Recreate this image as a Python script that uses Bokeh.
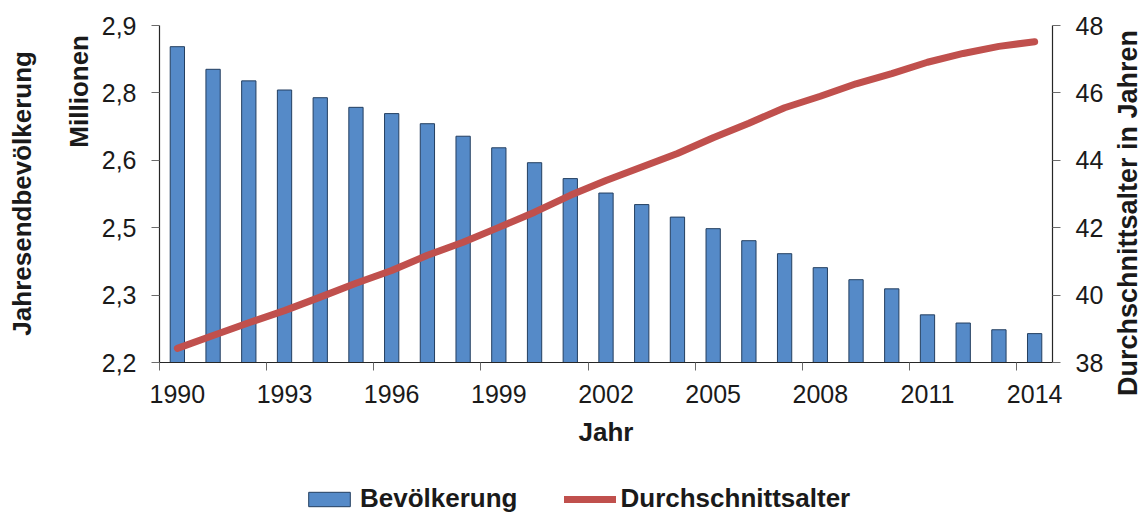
from bokeh.plotting import figure
from bokeh.layouts import column, row
from bokeh.models import (ColumnDataSource, Range1d, LinearAxis, FixedTicker,
                          CustomJSTickFormatter, Legend, LegendItem, Div)
from bokeh.embed import file_html
from bokeh.resources import INLINE

# ---------------- data ----------------
YEARS = [1990, 1991, 1992, 1993, 1994, 1995, 1996, 1997, 1998, 1999, 2000, 2001, 2002,
         2003, 2004, 2005, 2006, 2007, 2008, 2009, 2010, 2011, 2012, 2013, 2014]
POPULATION_MIO = [2.856, 2.809, 2.785, 2.766, 2.750, 2.730, 2.717, 2.696, 2.670, 2.646,
                  2.615, 2.582, 2.552, 2.528, 2.502, 2.478, 2.453, 2.426, 2.397, 2.372,
                  2.353, 2.299, 2.282, 2.268, 2.260]
AVERAGE_AGE = [38.42, 38.80, 39.18, 39.54, 39.94, 40.35, 40.73, 41.18, 41.57, 42.01,
               42.46, 42.96, 43.40, 43.80, 44.20, 44.67, 45.10, 45.56, 45.90, 46.27,
               46.57, 46.91, 47.17, 47.38, 47.52]
X_TICK_YEARS = [1990, 1993, 1996, 1999, 2002, 2005, 2008, 2011, 2014]
LEFT_TICKS = [2.2, 2.34, 2.48, 2.62, 2.76, 2.9]
RIGHT_TICKS = [38, 40, 42, 44, 46, 48]

SERIES_NAMES = ["Bevölkerung", "Durchschnittsalter"]
X_TITLE = "Jahr"
LEFT_TITLE_1 = "Jahresendbevölkerung"
LEFT_TITLE_2 = "Millionen"
RIGHT_TITLE = "Durchschnittsalter in Jahren"

# ---------------- style ----------------
FONT = "Liberation Sans"
BAR_FILL = "#558AC8"
BAR_LINE = "#243F60"
LINE_COLOR = "#C0504D"
AXIS_COLOR = "#262626"
TICK_COLOR = "#6b6b6b"
TEXT_COLOR = "#1a1a1a"

bar_style = dict(fill_color=BAR_FILL, line_color=BAR_LINE, line_width=1)
line_style = dict(line_color=LINE_COLOR, line_width=7, line_cap="round", line_join="round")

src = ColumnDataSource(dict(year=YEARS, pop=POPULATION_MIO, age=AVERAGE_AGE))

# ---------------- main chart ----------------
p = figure(width=1023, height=470, output_backend="svg", toolbar_location=None,
           title=None,
           x_range=Range1d(YEARS[0] - 0.5, YEARS[-1] + 0.5),
           y_range=Range1d(LEFT_TICKS[0], LEFT_TICKS[-1]),
           min_border_left=64, min_border_right=66, min_border_top=25,
           min_border_bottom=108)
p.extra_y_ranges = {"age": Range1d(RIGHT_TICKS[0], RIGHT_TICKS[-1])}
p.outline_line_color = None
p.xgrid.visible = False
p.ygrid.visible = False
p.background_fill_color = "white"
p.border_fill_color = "white"

r_bar = p.vbar(x="year", top="pop", bottom=LEFT_TICKS[0], width=0.4, source=src, **bar_style)
r_line = p.line(x="year", y="age", source=src, y_range_name="age", **line_style)

def style_axis(ax):
    ax.axis_line_color = AXIS_COLOR
    ax.axis_line_width = 1.2
    ax.major_label_text_font = FONT
    ax.major_label_text_font_size = "25px"
    ax.major_label_text_color = TEXT_COLOR
    ax.axis_label_text_font = FONT
    ax.axis_label_text_font_size = "26px"
    ax.axis_label_text_font_style = "bold"
    ax.axis_label_text_color = TEXT_COLOR
    ax.major_tick_line_color = TICK_COLOR
    ax.minor_tick_line_color = TICK_COLOR

# x axis
xa = p.xaxis[0]
style_axis(xa)
xa.ticker = FixedTicker(ticks=X_TICK_YEARS, minor_ticks=[t - 0.5 for t in X_TICK_YEARS])
xa.major_tick_line_color = None
xa.major_tick_in = 0
xa.major_tick_out = 0
xa.minor_tick_in = 0
xa.minor_tick_out = 8
xa.major_label_standoff = 14
xa.axis_label = X_TITLE
xa.axis_label_standoff = 11

# left axis
ya = p.yaxis[0]
style_axis(ya)
ya.ticker = FixedTicker(ticks=LEFT_TICKS, minor_ticks=[])
ya.formatter = CustomJSTickFormatter(code="return tick.toFixed(1).replace('.', ',');")
ya.major_tick_in = 0
ya.major_tick_out = 8
ya.major_label_standoff = 15

# right axis
yr = LinearAxis(y_range_name="age")
style_axis(yr)
yr.ticker = FixedTicker(ticks=RIGHT_TICKS, minor_ticks=[])
yr.major_tick_in = 0
yr.major_tick_out = 8
yr.major_label_standoff = 15
p.add_layout(yr, "right")

# ---------------- vertical titles (read bottom to top) ----------------
def vtitle(text, left, top, size):
    return (
        f'<div style="position:absolute; left:{left}px; top:{top}px; width:{size}px; '
        'writing-mode:vertical-rl; transform:rotate(180deg); white-space:nowrap; '
        f"font-family:'{FONT}', Arial, sans-serif; font-size:{size}px; font-weight:bold; "
        f'line-height:{size}px; color:{TEXT_COLOR};">{text}</div>'
    )

lt = Div(text=vtitle(LEFT_TITLE_1, 9, 51, 26) + vtitle(LEFT_TITLE_2, 66, 35, 26),
         width=95, height=470, margin=(0, 0, 0, 0),
         styles={"position": "relative", "overflow": "visible"})
rt = Div(text=vtitle(RIGHT_TITLE, -3, 30, 27), width=26, height=470, margin=(0, 0, 0, 0),
         styles={"position": "relative", "overflow": "visible"})

# ---------------- legend strip ----------------
lg = figure(width=1144, height=45, output_backend="svg", toolbar_location=None, title=None,
            x_axis_type=None, y_axis_type=None, x_range=Range1d(0, 1), y_range=Range1d(0, 1),
            min_border=0)
lg.outline_line_color = None
lg.border_fill_color = "white"
lg.background_fill_color = "white"
# off-range proxies that only provide the legend glyph styles
lg_bar = lg.vbar(x=[-5], top=[-5], bottom=[-6], width=0.1, **bar_style)
lg_line = lg.line(x=[-6, -5], y=[-5, -5], **line_style)
legend = Legend(items=[LegendItem(label=SERIES_NAMES[0], renderers=[lg_bar]),
                       LegendItem(label=SERIES_NAMES[1], renderers=[lg_line])],
                location=(303, 1), orientation="horizontal", padding=0, margin=0,
                spacing=46, border_line_color=None, background_fill_alpha=0,
                label_text_font=FONT, label_text_font_size="26px",
                label_text_font_style="bold", label_text_color=TEXT_COLOR,
                glyph_height=18, glyph_width=52, label_standoff=5)
lg.add_layout(legend, "center")

layout = column(row(lt, p, rt), lg)
open("out.html", "w").write(file_html(layout, INLINE))
